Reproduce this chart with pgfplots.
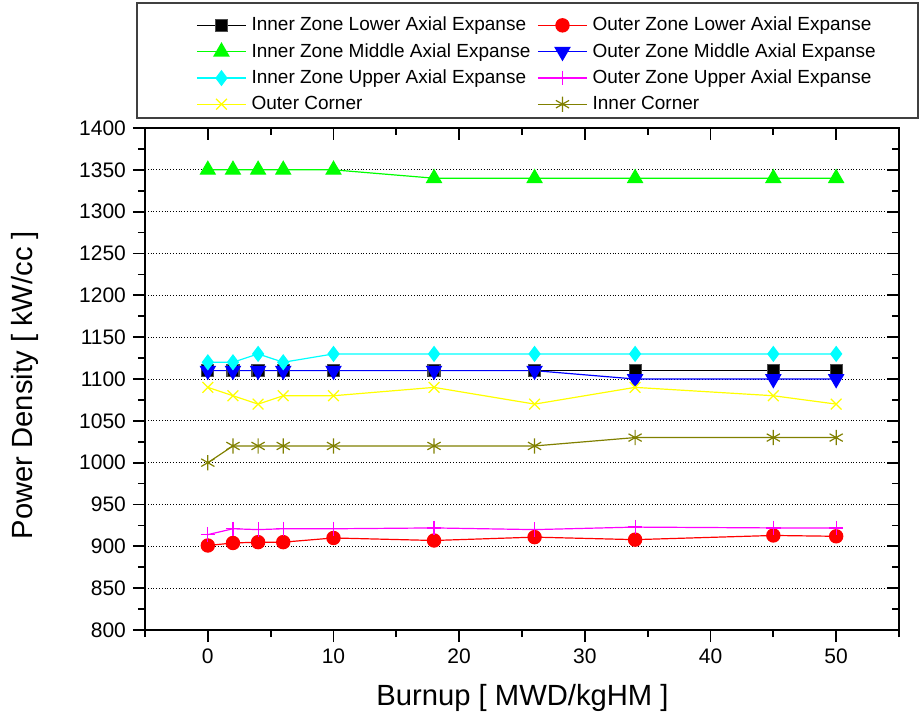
\documentclass[border=0pt]{standalone}
\usepackage{pgfplots}
\pgfplotsset{compat=1.18}
\usepackage{pgfplotstable}
\usepackage{fontspec}
\setmainfont{Liberation Sans}

\definecolor{cBlack}{RGB}{0,0,0}
\definecolor{cRed}{RGB}{255,0,0}
\definecolor{cGreen}{RGB}{0,255,0}
\definecolor{cBlue}{RGB}{0,0,255}
\definecolor{cCyan}{RGB}{0,255,255}
\definecolor{cMagenta}{RGB}{255,0,255}
\definecolor{cYellow}{RGB}{255,255,0}
\definecolor{cOlive}{RGB}{128,128,0}

% burnup [MWD/kgHM] vs. power density [kW/cc]
\pgfplotstableread{
x  izl  ozl  izm  ozm  izu  ozu  oc   ic
0  1110 901  1350 1110 1120 914  1090 1000
2  1110 904  1350 1110 1120 921  1080 1020
4  1110 905  1350 1110 1130 920  1070 1020
6  1110 905  1350 1110 1120 921  1080 1020
10 1110 910  1350 1110 1130 921  1080 1020
18 1110 907  1340 1110 1130 922  1090 1020
26 1110 911  1340 1110 1130 920  1070 1020
34 1110 908  1340 1100 1130 923  1090 1030
45 1110 913  1340 1100 1130 922  1080 1030
50 1110 912  1340 1100 1130 922  1070 1030
}\pdtable

\pgfplotsset{
  pdframe/.style={
    scale only axis, width=377pt, height=251pt,
    at={(0,0)}, anchor=south west,
    xmin=-5, xmax=55, ymin=800, ymax=1400,
    xtick={0,10,...,50}, ytick={800,850,...,1400},
    minor xtick={-5,5,...,55}, minor ytick={825,875,...,1375},
    major tick length=6pt, minor tick length=3.5pt,
    axis line style={line width=1pt},
    every tick/.style={black, line width=0.9pt},
  },
}

\begin{document}
\begin{tikzpicture}
\useasboundingbox (-72.5pt,-43.5pt) rectangle (389.5pt,315pt);

% main axis: outward ticks at bottom and left, labels, data
\begin{axis}[pdframe,
  tick align=outside,
  xtick pos=bottom, ytick pos=left,
  ymajorgrids,
  major grid style={densely dotted, black, line width=0.5pt},
  tick label style={font=\fontsize{10.5}{12}\selectfont},
  /pgf/number format/assume math mode=true,
  /pgf/number format/set thousands separator={},
  xlabel={Burnup [ MWD/kgHM ]},
  ylabel={Power Density [ kW/cc ]},
  label style={font=\fontsize{14.6}{17}\selectfont},
  xlabel style={at={(axis description cs:0.5007,-0.1355)}, anchor=center},
  ylabel style={at={(axis description cs:-0.159,0.488)}, anchor=center},
  every axis plot/.append style={line width=0.6pt},
  legend columns=2,
  legend cell align=left,
  legend style={draw=none, fill=none, inner sep=0pt,
    at={(axis description cs:0.0676,1.226)}, anchor=north west,
    font=\fontsize{9.5}{11}\selectfont,
    row sep=2.8pt,
    nodes={inner xsep=2.5pt, inner ysep=1pt},
    /tikz/every even column/.append style={column sep=1pt}},
  legend image code/.code={%
    \draw[mark repeat=2,mark phase=2]
      plot coordinates {(0pt,0pt) (12.25pt,0pt) (24.5pt,0pt)};},
]
\addplot[cBlack, mark=square*, mark size=3pt, mark options={solid, fill=cBlack, draw=black!70}]
  table[x=x, y=izl] {\pdtable};
\addlegendentry{Inner Zone Lower Axial Expanse}
\addplot[cRed, mark=*, mark size=3.3pt, mark options={solid, fill=cRed, draw=cRed}]
  table[x=x, y=ozl] {\pdtable};
\addlegendentry{Outer Zone Lower Axial Expanse}
\addplot[cGreen, mark=triangle*, mark size=4.2pt, mark options={solid, fill=cGreen, draw=cGreen}]
  table[x=x, y=izm] {\pdtable};
\addlegendentry{Inner Zone Middle Axial Expanse}
\addplot[cBlue, mark=triangle*, mark size=4.2pt, mark options={solid, rotate=180, fill=cBlue, draw=cBlue}]
  table[x=x, y=ozm] {\pdtable};
\addlegendentry{Outer Zone Middle Axial Expanse}
\addplot[cCyan, mark=diamond*, mark size=3.6pt, mark options={solid, fill=cCyan, draw=cCyan}]
  table[x=x, y=izu] {\pdtable};
\addlegendentry{Inner Zone Upper Axial Expanse}
\addplot[cMagenta, mark=+, mark size=3.6pt, mark options={solid, line width=0.6pt}]
  table[x=x, y=ozu] {\pdtable};
\addlegendentry{Outer Zone Upper Axial Expanse}
\addplot[cYellow, mark=x, mark size=3.8pt, mark options={solid, line width=0.6pt}]
  table[x=x, y=oc] {\pdtable};
\addlegendentry{Outer Corner}
\addplot[cOlive, mark=asterisk, mark size=3.8pt, mark options={solid, line width=0.6pt}]
  table[x=x, y=ic] {\pdtable};
\addlegendentry{Inner Corner}
\end{axis}

% mirrored frame: inward ticks on top and right
\begin{axis}[pdframe,
  tick align=inside,
  xtick pos=top, ytick pos=right,
  xticklabels={}, yticklabels={},
]
\end{axis}

% legend frame
\draw[line width=1pt, black!75] (-4pt,256pt) rectangle (386.5pt,313.5pt);
\end{tikzpicture}
\end{document}
